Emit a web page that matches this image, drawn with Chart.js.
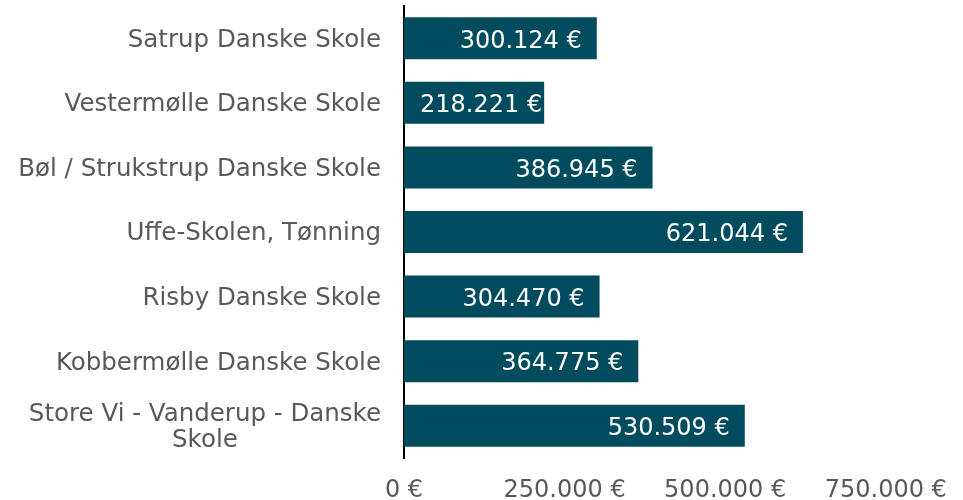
<!DOCTYPE html>
<html>
<head>
<meta charset="utf-8">
<script src="https://cdn.jsdelivr.net/npm/chart.js@4"></script>
<style>
  html, body { margin: 0; padding: 0; background: #fff; }
  #wrap { width: 963px; height: 500px; }
</style>
</head>
<body>
<div id="wrap"><canvas id="c" width="963" height="500"></canvas></div>
<script>
const schools = [
  ["Satrup Danske Skole"],
  ["Vestermølle Danske Skole"],
  ["Bøl / Strukstrup Danske Skole"],
  ["Uffe-Skolen, Tønning"],
  ["Risby Danske Skole"],
  ["Kobbermølle Danske Skole"],
  ["Store Vi - Vanderup - Danske", "Skole"]
];
const amounts = [300124, 218221, 386945, 621044, 304470, 364775, 530509];
const xTicks = [0, 250000, 500000, 750000];

const FONT = "'DejaVu Sans', Verdana, sans-serif";
const GREY = "#595959";
const BAR = "#004b5e";

const euro = v => v.toLocaleString("de-DE") + " €";

// school names, multi-line labels centred on their widest line
const yLabelsPlugin = {
  id: "yLabels",
  afterDraw(chart) {
    const { ctx, scales } = chart;
    const y = scales.y;
    const right = chart.chartArea.left - 23;
    ctx.save();
    ctx.font = "24.5px " + FONT;
    ctx.fillStyle = GREY;
    ctx.textAlign = "center";
    ctx.textBaseline = "middle";
    schools.forEach((lines, i) => {
      const w = Math.max(...lines.map(l => ctx.measureText(l).width));
      const cy = y.getPixelForValue(i) + 2;
      const lh = 26;
      lines.forEach((l, j) => {
        ctx.fillText(l, right - w / 2, cy + (j - (lines.length - 1) / 2) * lh);
      });
    });
    ctx.restore();
  }
};

// value labels inside the bar end
const valueLabelsPlugin = {
  id: "valueLabels",
  afterDatasetsDraw(chart) {
    const { ctx } = chart;
    const meta = chart.getDatasetMeta(0);
    ctx.save();
    ctx.font = "24px " + FONT;
    ctx.fillStyle = "#ffffff";
    ctx.textAlign = "left";
    ctx.textBaseline = "middle";
    meta.data.forEach((bar, i) => {
      const txt = euro(amounts[i]);
      const w = ctx.measureText(txt).width;
      let left = bar.x - 15 - w;
      if (left < bar.base + 16) left = bar.base + 16;
      ctx.fillText(txt, left, bar.y + 3);
    });
    ctx.restore();
  }
};

new Chart(document.getElementById("c"), {
  type: "bar",
  data: {
    labels: schools.map(s => s.join(" ")),
    datasets: [{
      data: amounts,
      backgroundColor: BAR,
      barPercentage: 0.65,
      categoryPercentage: 1
    }]
  },
  options: {
    indexAxis: "y",
    responsive: false,
    animation: false,
    layout: { padding: { top: 6, right: 13, left: 0, bottom: 0 } },
    plugins: {
      legend: { display: false },
      tooltip: { enabled: false }
    },
    scales: {
      x: {
        min: 0,
        max: 850000,
        grid: { display: false, drawTicks: false },
        border: { display: false },
        afterBuildTicks: s => { s.ticks = xTicks.map(v => ({ value: v })); },
        afterFit: s => {
          s.height = 42;
          s.paddingLeft = 0;
          s.paddingRight = 0;
        },
        ticks: {
          padding: 18,
          color: GREY,
          font: { family: FONT, size: 24 },
          maxRotation: 0,
          callback: v => euro(v)
        }
      },
      y: {
        grid: { display: false, drawTicks: false },
        border: { display: true, color: "#000000", width: 2 },
        ticks: { display: false },
        afterFit: s => { s.width = 404; }
      }
    }
  },
  plugins: [yLabelsPlugin, valueLabelsPlugin]
});
</script>
</body>
</html>
